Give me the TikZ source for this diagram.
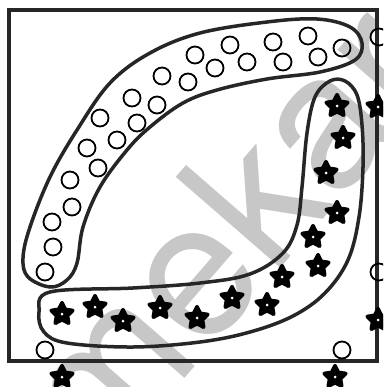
\documentclass[tikz,border=0pt]{standalone}
\usepackage{fontspec}
\setmainfont{TeX Gyre Heros}
\usetikzlibrary{shapes.geometric}
\begin{document}
\begin{tikzpicture}[x=1pt,y=-1pt,
  dot/.style={circle,draw=black,line width=1.8pt,minimum size=17pt,inner sep=0pt},
  starnode/.style={star,star points=5,star point ratio=2.0,fill=black,draw=black,line width=3.8pt,line join=round,minimum size=22.5pt,inner sep=0pt},
  band/.style={draw=black!85,line width=3.5pt},
  frame/.style={draw=black!85,line width=3.5pt},
  wmark/.style={text=black!22,font=\fontsize{190}{190}\selectfont}]
\useasboundingbox (0,0) rectangle (383,387);
\clip (0,0) rectangle (383,387);
\fill[white] (0,0) rectangle (383,387);
% watermark
\node[wmark,rotate=49] (wm) at (222,232) {mekar};
% frame
\draw[frame] (9,10) rectangle (377,361);
% upper band
\draw[band] plot[smooth cycle,tension=0.6] coordinates {
 (50,287) (28,277) (23,258) (30,227) (50,177) (77,130) (110,83) (150,53)
 (200,33) (267,22) (317,19) (350,27) (362,43) (355,60) (320,72) (267,79)
 (217,90) (183,103) (150,127) (127,150) (100,187) (83,227) (77,263) (67,280)};
% lower band
\draw[band] plot[smooth cycle,tension=0.6] coordinates {
 (50,292) (133,288) (200,283) (250,274) (283,253) (297,225) (302,187) (307,133)
 (315,97) (330,81) (345,81) (357,95) (362,125) (363,167) (359,217) (348,260)
 (325,293) (293,316) (250,332) (200,342) (133,347) (67,343) (44,332) (39,312)};
% circles
\foreach \x/\y [count=\i] in {45/272,53/247,52/222,72/207,70/180,98/168,87/148,117/140,
  100/118,137/123,132/98,157/105,162/76,188/82,195/55,215/68,230/45,247/62,273/42,
  283/62,308/36,318/57,342/48,379/37,379/272,45/350,342/350}
  \node[dot] (c\i) at (\x,\y) {};
% stars
\foreach \x/\y [count=\i] in {62/314,95/307,123/321,160/308,197/318,232/298,267/305,
  282/277,318/266,313/237,337/213,326/173,343/138,337/106,378/107,378/320,62/377,335/377}
  {\node[starnode] (s\i) at (\x,\y) {};
   \fill[white] (s\i.center) circle (1.5);}
\end{tikzpicture}
\end{document}
